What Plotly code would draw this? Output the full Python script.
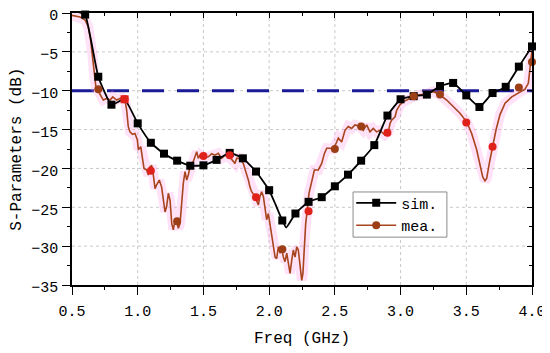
import plotly.graph_objects as go

# ---- simulated (markers every 0.1 GHz) ----
sim_freq = [0.6, 0.7, 0.8, 0.9, 1.0, 1.1, 1.2, 1.3, 1.4, 1.5, 1.6, 1.7, 1.8, 1.9, 2.0,
            2.1, 2.2, 2.3, 2.4, 2.5, 2.6, 2.7, 2.8, 2.9, 3.0, 3.1, 3.2, 3.3, 3.4, 3.5,
            3.6, 3.7, 3.8, 3.9, 4.0]
sim_db = [-0.2, -8.2, -11.8, -11.1, -14.2, -16.7, -18.1, -19.0, -19.65, -19.6, -18.9, -18.0,
          -18.7, -20.4, -22.8, -26.7, -25.8, -24.3, -23.7, -22.3, -20.8, -19.0, -17.0, -13.2,
          -11.1, -10.7, -10.5, -9.4, -9.0, -10.6, -12.1, -10.3, -9.5, -6.9, -4.3]
# extra points of the simulated line between markers
sim_extra_freq = [0.5, 0.55, 2.05, 2.13]
sim_extra_db = [0.3, 0.1, -24.7, -27.6]

# ---- measured (dense curve) ----
mea_freq = [0.50, 0.56, 0.60, 0.624, 0.642, 0.657, 0.667, 0.683, 0.708, 0.738, 0.764, 0.79,
            0.81, 0.84, 0.878, 0.903, 0.916, 0.928, 0.941, 0.96, 0.979, 0.997, 1.005, 1.023,
            1.038, 1.048, 1.068, 1.081, 1.093, 1.106, 1.119, 1.132, 1.144, 1.164, 1.182,
            1.195, 1.208, 1.22, 1.233, 1.246, 1.259, 1.271, 1.284, 1.297, 1.309, 1.322,
            1.335, 1.347, 1.36, 1.373, 1.385, 1.398, 1.423, 1.436, 1.449, 1.461, 1.474,
            1.487, 1.51, 1.537, 1.563, 1.588, 1.613, 1.639, 1.664, 1.689, 1.715, 1.74,
            1.753, 1.778, 1.803, 1.829, 1.842, 1.854, 1.867, 1.892, 1.905, 1.918, 1.93,
            1.943, 1.956, 1.968, 1.981, 1.994, 2.006, 2.019, 2.032, 2.045, 2.057, 2.07,
            2.083, 2.096, 2.108, 2.121, 2.134, 2.146, 2.159, 2.172, 2.184, 2.197, 2.21,
            2.222, 2.235, 2.248, 2.257, 2.267, 2.278, 2.29, 2.303, 2.324, 2.344, 2.374,
            2.40, 2.42, 2.438, 2.463, 2.488, 2.514, 2.526, 2.552, 2.577, 2.602, 2.628,
            2.653, 2.691, 2.716, 2.742, 2.767, 2.792, 2.818, 2.843, 2.881, 2.907, 2.92,
            2.932, 2.958, 2.971, 2.996, 3.021, 3.059, 3.097, 3.135, 3.199, 3.249, 3.30,
            3.351, 3.401, 3.452, 3.503, 3.541, 3.579, 3.604, 3.625, 3.642, 3.655, 3.675,
            3.701, 3.726, 3.756, 3.795, 3.846, 3.896, 3.947, 3.972, 3.99, 4.0]
mea_db = [-0.3, -0.5, -0.9, -1.8, -3.5, -5.6, -7.8, -9.7, -10.3, -11.2, -11.0, -11.2,
          -10.8, -11.2, -10.9, -11.2, -12.5, -14.6, -15.3, -15.6, -15.5, -16.3, -17.6, -17.2,
          -18.9, -20.0, -20.2, -20.85, -19.8, -19.6, -20.85, -22.6, -22.1, -21.5, -22.4,
          -23.85, -25.6, -24.9, -23.2, -24.1, -27.1, -27.9, -26.6, -26.9, -27.7, -27.1,
          -24.1, -21.9, -20.4, -21.5, -20.85, -19.8, -19.1, -18.3, -17.85, -18.7, -18.3,
          -18.5, -18.6, -18.5, -18.1, -18.3, -18.06, -18.7, -18.3, -18.3, -18.9, -19.35,
          -18.7, -18.7, -19.35, -20.6, -21.5, -22.4, -23.0, -23.6, -24.3, -24.7, -23.6,
          -23.0, -23.6, -25.4, -26.6, -25.8, -27.1, -28.4, -30.1, -31.4, -31.6, -30.1,
          -30.9, -30.3, -31.4, -32.0, -30.9, -32.2, -33.5, -31.8, -30.5, -31.4, -30.1,
          -30.5, -32.2, -34.4, -33.5, -29.6, -27.1, -25.4, -23.2, -21.7, -20.2, -20.2,
          -19.35, -18.1, -17.4, -17.4, -17.5, -16.6, -16.1, -16.6, -15.1, -14.6, -14.85,
          -14.4, -14.6, -15.1, -14.4, -15.3, -14.85, -15.3, -15.1, -15.7, -15.3, -14.2,
          -13.8, -13.35, -12.5, -11.8, -11.4, -11.1, -10.7, -10.55, -10.4, -10.1, -10.55,
          -11.2, -12.06, -12.9, -14.0, -15.5, -17.6, -19.35, -21.1, -21.6, -21.3, -19.35,
          -17.2, -15.06, -13.1, -11.6, -10.8, -10.3, -9.8, -9.05, -6.5, -4.8]
# measured markers
mea_mk_freq = [0.7, 0.9, 1.1, 1.3, 1.5, 1.7, 1.9, 2.1, 2.3, 2.5, 2.7, 2.9, 3.1, 3.3, 3.5, 3.7, 3.9, 4.0]
mea_mk_db = [-9.8, -11.1, -20.3, -26.8, -18.4, -18.3, -23.7, -30.4, -25.5, -17.5, -14.6,
             -15.4, -10.7, -10.5, -14.1, -17.2, -9.6, -6.3]
mea_mk_kind = ["b", "r", "r", "b", "r", "r", "r", "b", "r", "b", "b", "r", "b", "b", "r", "r", "b", "b"]

threshold_db = -10
x_ticks = [0.5, 1.0, 1.5, 2.0, 2.5, 3.0, 3.5, 4.0]
x_ticktext = ["0.5", "1.0", "1.5", "2.0", "2.5", "3.0", "3.5", "4.0"]
y_ticks = [0, -5, -10, -15, -20, -25, -30, -35]
y_ticktext = ["0", "\u22125", "\u221210", "\u221215", "\u221220", "\u221225", "\u221230", "\u221235"]
x_minor_step = 0.25
y_minor_step = 2.5
x_title = "Freq (GHz)"
y_title = "S-Parameters (dB)"

FONT = "Liberation Mono"
BROWN = "#a8451f"
RED = "#e0201a"
MK_BROWN = "#9c3f16"
GRID = "#c8c8c8"

sim_line = sorted(zip(sim_freq + sim_extra_freq, sim_db + sim_extra_db))
sim_marker_colors = [RED if f == 0.9 else "black" for f in sim_freq]

fig = go.Figure()
# threshold line
fig.add_trace(go.Scatter(x=[0.5, 4.0], y=[threshold_db, threshold_db], mode="lines",
                         line=dict(color="#1a1a96", width=3, dash="22px,13px"),
                         showlegend=False, hoverinfo="skip"))
# pink halo around measured curve
fig.add_trace(go.Scatter(x=mea_freq, y=mea_db, mode="lines",
                         line=dict(color="rgba(255,150,225,0.28)", width=10),
                         showlegend=False, hoverinfo="skip"))
# measured curve
fig.add_trace(go.Scatter(x=mea_freq, y=mea_db, mode="lines",
                         line=dict(color=BROWN, width=1.6),
                         showlegend=False))
# simulated line
fig.add_trace(go.Scatter(x=[p[0] for p in sim_line], y=[p[1] for p in sim_line], mode="lines",
                         line=dict(color="black", width=1.8, shape="spline", smoothing=0.4),
                         showlegend=False))
# simulated markers
fig.add_trace(go.Scatter(x=sim_freq, y=sim_db, mode="markers", cliponaxis=False,
                         marker=dict(symbol="square", size=8, color=sim_marker_colors),
                         showlegend=False))
# measured markers
fig.add_trace(go.Scatter(x=mea_mk_freq, y=mea_mk_db, mode="markers", cliponaxis=False,
                         marker=dict(symbol="circle", size=8,
                                     color=[RED if k == "r" else MK_BROWN for k in mea_mk_kind]),
                         showlegend=False))
# legend entries
fig.add_trace(go.Scatter(x=[None], y=[None], mode="lines+markers", name="sim.",
                         line=dict(color="black", width=1.8),
                         marker=dict(symbol="square", size=8, color="black")))
fig.add_trace(go.Scatter(x=[None], y=[None], mode="lines+markers", name="mea.",
                         line=dict(color=BROWN, width=1.6),
                         marker=dict(symbol="circle", size=8, color=MK_BROWN)))
# dummy traces creating the extra tick-only axes
for xa, ya in (("x2", "y2"), ("x3", "y3"), ("x4", "y4")):
    fig.add_trace(go.Scatter(x=[None], y=[None], xaxis=xa, yaxis=ya, showlegend=False,
                             hoverinfo="skip"))

axis_main = dict(showline=True, linecolor="black", linewidth=1.5, mirror=False,
                 ticks="outside", ticklen=8, tickwidth=1.2, tickcolor="black",
                 showgrid=False, zeroline=False, automargin=False, ticklabeloverflow="allow",
                 tickfont=dict(family=FONT, size=15, color="black"))
tick_only = dict(tickwidth=1.2, tickcolor="black", showgrid=False, zeroline=False,
                 showticklabels=False, automargin=False)

fig.update_layout(
    xaxis=dict(range=[0.5, 4.0], tickvals=x_ticks, ticktext=x_ticktext, ticklabelstandoff=3,
               **axis_main),
    yaxis=dict(range=[-35, 0], tickvals=y_ticks, ticktext=y_ticktext, ticklabelstandoff=1,
               ticklabelshift=2, **axis_main),
    # top / right frame with inward major ticks
    xaxis2=dict(range=[0.5, 4.0], overlaying="x", side="top", tickvals=x_ticks,
                ticks="inside", ticklen=5, showline=True, linecolor="black", linewidth=1.5,
                **tick_only),
    yaxis2=dict(range=[-35, 0], overlaying="y", side="right", tickvals=y_ticks,
                ticks="inside", ticklen=5, showline=True, linecolor="black", linewidth=1.5,
                **tick_only),
    # top / right inward minor ticks
    xaxis3=dict(range=[0.5, 4.0], overlaying="x", side="top", tickmode="linear",
                tick0=0.5, dtick=x_minor_step, ticks="inside", ticklen=3, showline=False,
                **tick_only),
    yaxis3=dict(range=[-35, 0], overlaying="y", side="right", tickmode="linear",
                tick0=0, dtick=y_minor_step, ticks="inside", ticklen=3, showline=False,
                **tick_only),
    # bottom / left outward minor ticks
    xaxis4=dict(range=[0.5, 4.0], overlaying="x", side="bottom", tickmode="linear",
                tick0=0.5, dtick=x_minor_step, ticks="outside", ticklen=4, showline=False,
                **tick_only),
    yaxis4=dict(range=[-35, 0], overlaying="y", side="left", tickmode="linear",
                tick0=0, dtick=y_minor_step, ticks="outside", ticklen=4, showline=False,
                **tick_only),
)

# dotted major grid lines, placed at the major tick values
for xv in x_ticks[1:-1]:
    fig.add_shape(type="line", xref="x", yref="paper", x0=xv, x1=xv, y0=0, y1=1,
                  line=dict(color=GRID, width=1, dash="dot"), layer="below")
for yv in y_ticks[1:-1]:
    fig.add_shape(type="line", xref="paper", yref="y", x0=0, x1=1, y0=yv, y1=yv,
                  line=dict(color=GRID, width=1, dash="dot"), layer="below")

# axis titles
fig.add_annotation(text=x_title, xref="paper", yref="paper", x=0.5, y=-0.197,
                   xanchor="center", yanchor="middle", showarrow=False,
                   font=dict(family=FONT, size=16, color="black"))
fig.add_annotation(text=y_title, xref="paper", yref="paper", x=-0.12, y=0.5,
                   xanchor="center", yanchor="middle", showarrow=False, textangle=-90,
                   font=dict(family=FONT, size=16, color="black"))

# legend frame
fig.add_shape(type="rect", xref="paper", yref="paper", x0=0.611, x1=0.815, y0=0.176, y1=0.342,
              line=dict(color="#8a8a8a", width=1), fillcolor="white", layer="above")

fig.update_layout(
    template="none",
    width=542, height=345,
    margin=dict(l=64, r=18, t=5, b=68),
    paper_bgcolor="white", plot_bgcolor="white",
    font=dict(family=FONT, size=16, color="black"),
    legend=dict(x=0.607, y=0.362, xanchor="left", yanchor="top",
                bgcolor="rgba(0,0,0,0)", borderwidth=0,
                font=dict(family=FONT, size=15, color="black"),
                tracegroupgap=0, itemwidth=40),
    showlegend=True,
)

fig.write_html("out.html")
